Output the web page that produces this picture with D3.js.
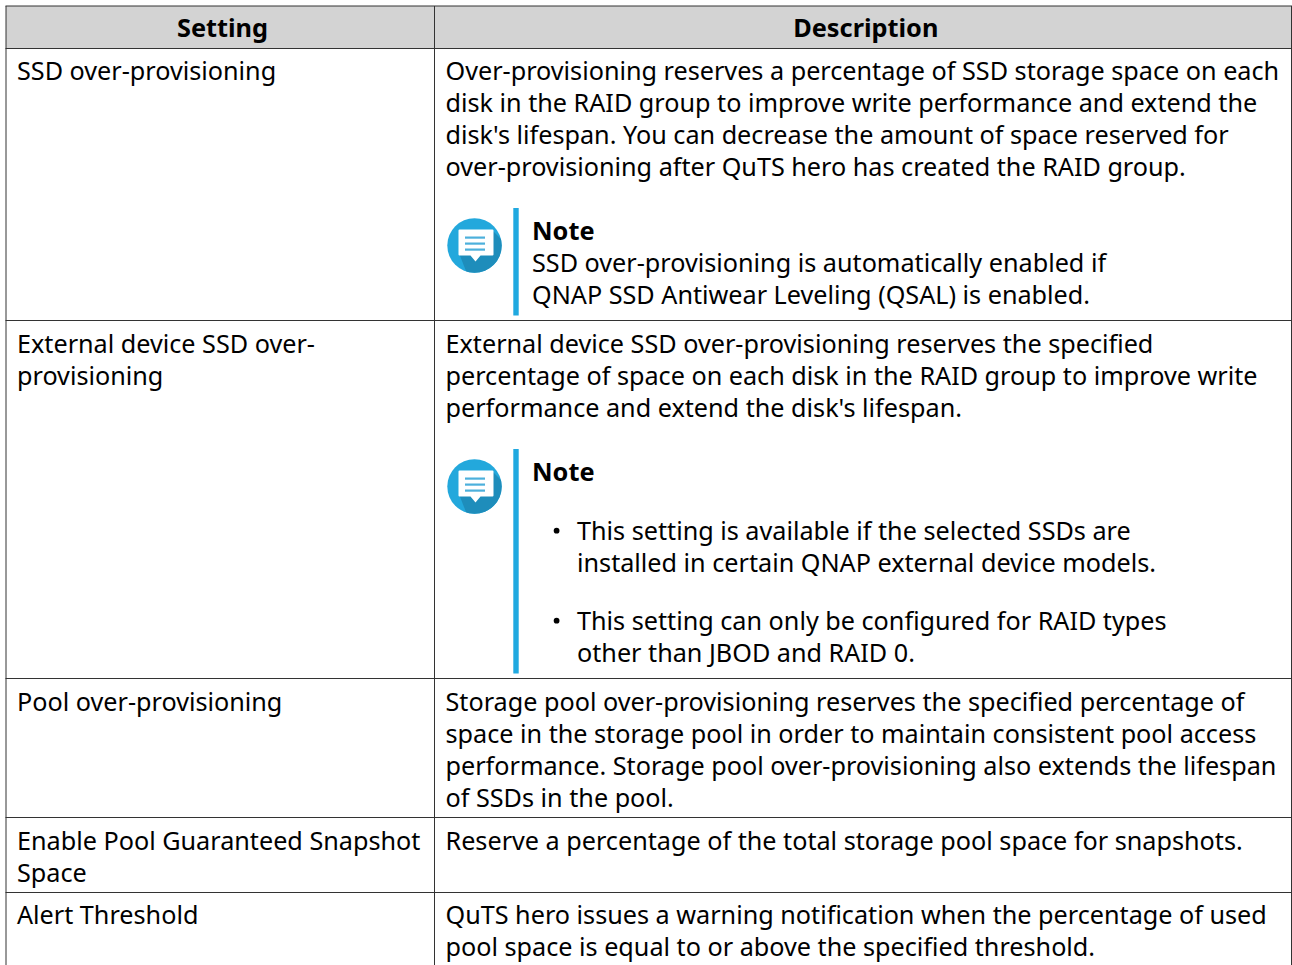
<!DOCTYPE html>
<html>
<head>
<meta charset="utf-8">
<script src="https://cdn.jsdelivr.net/npm/d3@7"></script>
<style>
  html, body { margin: 0; padding: 0; background: #fff; overflow: hidden; }
  text { font-family: "Noto Sans", sans-serif; font-size: 25.2px; fill: #000; }
  .bold { font-weight: 700; font-size: 25.33px; }
</style>
</head>
<body>
<div id="chart"></div>
<script>
// table content
var headers = ["Setting", "Description"];

var settings = [
    ["SSD over-provisioning"],
    ["External device SSD over-", "provisioning"],
    ["Pool over-provisioning"],
    ["Enable Pool Guaranteed Snapshot", "Space"],
    ["Alert Threshold"]
];

var descriptions = [
    ["Over-provisioning reserves a percentage of SSD storage space on each",
     "disk in the RAID group to improve write performance and extend the",
     "disk's lifespan. You can decrease the amount of space reserved for",
     "over-provisioning after QuTS hero has created the RAID group."],
    ["External device SSD over-provisioning reserves the specified",
     "percentage of space on each disk in the RAID group to improve write",
     "performance and extend the disk's lifespan."],
    ["Storage pool over-provisioning reserves the specified percentage of",
     "space in the storage pool in order to maintain consistent pool access",
     "performance. Storage pool over-provisioning also extends the lifespan",
     "of SSDs in the pool."],
    ["Reserve a percentage of the total storage pool space for snapshots."],
    ["QuTS hero issues a warning notification when the percentage of used",
     "pool space is equal to or above the specified threshold."]
];

var noteTitle = "Note";
var note1Lines = ["SSD over-provisioning is automatically enabled if",
                  "QNAP SSD Antiwear Leveling (QSAL) is enabled."];
var note2Bullets = [
    ["This setting is available if the selected SSDs are",
     "installed in certain QNAP external device models."],
    ["This setting can only be configured for RAID types",
     "other than JBOD and RAID 0."]
];

// layout
var width = 1292, height = 965;
var left = 6, mid = 434.5, right = 1291.5;
var rowEdges = [6, 48.5, 320.5, 678.5, 817.5, 892.5];
var rowBaselines = [79.5, 352.5, 710.5, 849.5, 923.5];
var lineHeight = 32;
var colX = [17, 445.5];

var svg = d3.select("#chart").append("svg")
    .attr("width", width)
    .attr("height", height)
    .style("display", "block");

var defs = svg.append("defs");
defs.append("clipPath").attr("id", "iconClip")
    .append("circle").attr("r", 27.2);

// header band
svg.append("rect")
    .attr("x", left).attr("y", rowEdges[0])
    .attr("width", right - left).attr("height", rowEdges[1] - rowEdges[0])
    .attr("fill", "#d3d3d3");

svg.selectAll("text.head")
    .data(headers)
    .enter()
    .append("text")
    .attr("class", "head bold")
    .attr("x", (d, i) => i == 0 ? 222.5 : 865.8)
    .attr("y", 36.5)
    .attr("text-anchor", "middle")
    .text(d => d);

function addLines(lines, x, y, cls) {
    var g = svg.append("g");
    g.selectAll("text")
        .data(lines)
        .enter()
        .append("text")
        .attr("class", cls || null)
        .attr("x", x)
        .attr("y", (d, i) => y + i * lineHeight)
        .text(d => d);
}

// body rows
settings.forEach(function(lines, i) {
    addLines(lines, colX[0], rowBaselines[i]);
    addLines(descriptions[i], colX[1], rowBaselines[i]);
});

// speech bubble icon + blue rule of a note
function addNote(barTop, barBottom, iconY) {
    svg.append("rect")
        .attr("x", 513.3).attr("y", barTop)
        .attr("width", 5.4).attr("height", barBottom - barTop)
        .attr("fill", "#20a9e0");

    var icon = svg.append("g").attr("transform", `translate(474.5, ${iconY})`);
    icon.append("circle").attr("r", 27.2).attr("fill", "#23a8dc");
    icon.append("path")
        .attr("clip-path", "url(#iconClip)")
        .attr("d", "M19,-14 L45,12 L20,42 L-2,42 L-15,9 Z")
        .attr("fill", "#1e8dbb");
    icon.append("path")
        .attr("d", "M-16,-15 Q-16,-16 -15,-16 L18,-16 Q19,-16 19,-15 L19,9 Q19,10 18,10 L6,10 L1,16 L-4,10 L-15,10 Q-16,10 -16,9 Z")
        .attr("fill", "#fff");
    icon.selectAll("rect")
        .data([-8, -2, 4])
        .enter()
        .append("rect")
        .attr("x", -9.5).attr("y", d => d - 1)
        .attr("width", 20).attr("height", 2.2)
        .attr("fill", "#4cb0dc");
}

addNote(208, 315.5, 245.5);
addLines([noteTitle], 532, 240, "bold");
addLines(note1Lines, 532, 271.5);

addNote(449, 673.5, 486.5);
addLines([noteTitle], 532, 481, "bold");

var bulletBaselines = [539.5, 629.5];
note2Bullets.forEach(function(lines, i) {
    svg.append("circle")
        .attr("cx", 556.6).attr("cy", bulletBaselines[i] - 8.8)
        .attr("r", 2.9).attr("fill", "#000");
    addLines(lines, 577, bulletBaselines[i]);
});

// grid lines
svg.selectAll("line.h")
    .data(rowEdges)
    .enter()
    .append("line")
    .attr("class", "h")
    .attr("x1", left - 0.5).attr("x2", right + 0.5)
    .attr("y1", d => d).attr("y2", d => d)
    .attr("stroke", "#333");

svg.selectAll("line.v")
    .data([left, mid, right])
    .enter()
    .append("line")
    .attr("class", "v")
    .attr("x1", d => d).attr("x2", d => d)
    .attr("y1", rowEdges[0]).attr("y2", height)
    .attr("stroke", "#333");
</script>
</body>
</html>
